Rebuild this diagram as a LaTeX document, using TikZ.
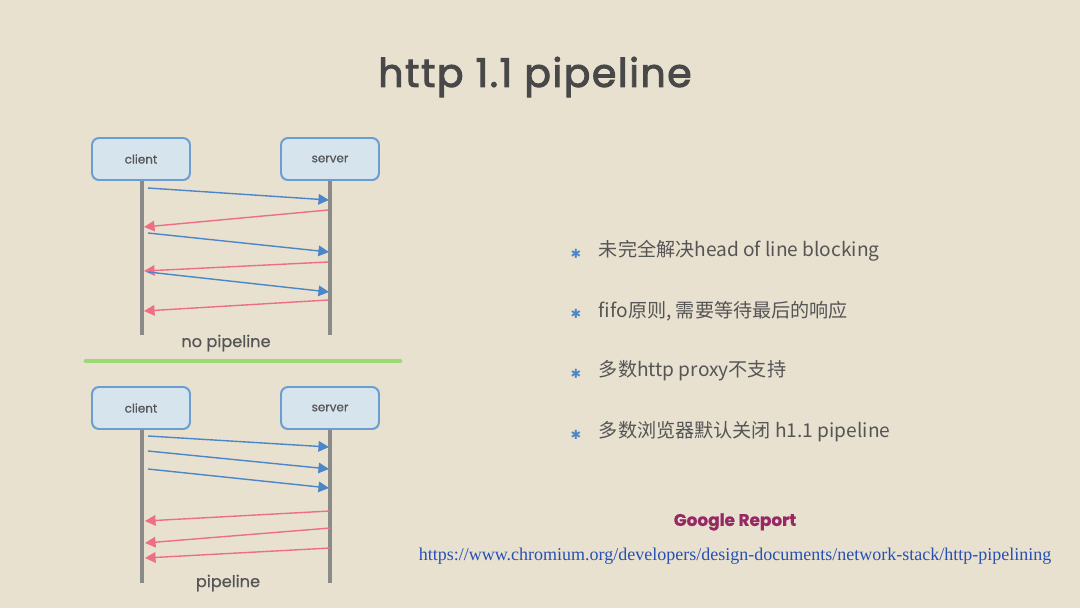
\documentclass[tikz,border=0pt]{standalone}
\usepackage{fontspec}
\usepackage{xcolor}
\usepackage{tikz}
\usetikzlibrary{positioning, calc, arrows.meta}
\setmainfont{Liberation Serif}
\newfontfamily\comic[FakeBold=0.6]{Poppins}
\newfontfamily\titlefont[FakeBold=2.5, LetterSpace=4]{Poppins}
\newfontfamily\cjk{Noto Sans CJK SC}
\newfontfamily\symb{DejaVu Sans}
\definecolor{slidebg}{RGB}{232,225,208}
\definecolor{boxfill}{RGB}{214,228,238}
\definecolor{boxline}{RGB}{106,158,208}
\definecolor{lifegray}{RGB}{138,138,136}
\definecolor{reqblue}{RGB}{76,134,200}
\definecolor{resred}{RGB}{238,110,132}
\definecolor{textgray}{RGB}{85,85,85}
\definecolor{titlegray}{RGB}{72,72,72}
\definecolor{sepgreen}{RGB}{156,218,118}
\definecolor{reportpurple}{RGB}{150,40,100}
\definecolor{urlblue}{RGB}{40,80,180}

\begin{document}
\begin{tikzpicture}[x=0.025cm, y=-0.025cm,
    actor/.style = {draw=boxline, line width=1.4pt, fill=boxfill, rounded corners=5pt, minimum width=98*0.025cm, minimum height=42*0.025cm, font=\comic\fontsize{8.5}{10}\selectfont, text=textgray},
    lifeline/.style = {draw=lifegray, line width=3.5pt},
    request/.style = {draw=reqblue, line width=1pt, -{Triangle[length=7.5pt, width=7.5pt]}},
    response/.style = {draw=resred, line width=1pt, -{Triangle[length=7.5pt, width=7.5pt]}},
    caption/.style = {font=\comic\fontsize{11.5}{14}\selectfont, text=textgray},
    bullet/.style = {font=\cjk\fontsize{13.6}{16}\selectfont, text=textgray, anchor=west},
    star/.style = {font=\symb\fontsize{9}{10}\selectfont, text=reqblue}]
    \fill[slidebg] (0,0) rectangle (1080,608);
    \useasboundingbox (0,0) rectangle (1080,608);

    \node[font=\titlefont\fontsize{28}{32}\selectfont, text=titlegray] (title) at (535,77) {http 1.1 pipeline};

    % no pipeline
    \node[actor] (client1) at (141,159) {client};
    \node[actor] (server1) at (330,159) {server};
    \coordinate (cend1) at (142,335);
    \coordinate (send1) at (330,335);
    \draw[lifeline] (client1.south -| cend1) -- (cend1);
    \draw[lifeline] (server1.south -| send1) -- (send1);
    \foreach \a/\b/\c/\d [count=\i] in {188/200/210/227, 233/252/262/271, 272/292/300/311} {
        \coordinate (c1q\i) at (148,\a);
        \coordinate (s1q\i) at (329,\b);
        \coordinate (s1r\i) at (328,\c);
        \coordinate (c1r\i) at (144,\d);
        \draw[request] (c1q\i) -- (s1q\i);
        \draw[response] (s1r\i) -- (c1r\i);
    }
    \node[caption] (nopipe) at (226,343) {no pipeline};

    \coordinate (sepl) at (86,361);
    \coordinate (sepr) at (400,361);
    \draw[sepgreen, line width=3.5pt, line cap=round] (sepl) -- (sepr);

    % pipeline
    \node[actor] (client2) at (141,408) {client};
    \node[actor] (server2) at (330,408) {server};
    \coordinate (cend2) at (142,583);
    \coordinate (send2) at (330,583);
    \draw[lifeline] (client2.south -| cend2) -- (cend2);
    \draw[lifeline] (server2.south -| send2) -- (send2);
    \foreach \a/\b [count=\i] in {436/447, 451/469, 469/488} {
        \coordinate (c2q\i) at (148,\a);
        \coordinate (s2q\i) at (329,\b);
        \draw[request] (c2q\i) -- (s2q\i);
    }
    \foreach \a/\b [count=\i] in {511/521, 528/543, 548/558} {
        \coordinate (s2r\i) at (330,\a);
        \coordinate (c2r\i) at (145,\b);
        \draw[response] (s2r\i) -- (c2r\i);
    }
    \node[caption] (pipe) at (228,583) {pipeline};

    % notes
    \foreach \t/\y [count=\i] in {未完全解决head of line blocking/251, {fifo原则, 需要等待最后的响应}/311, 多数http proxy不支持/371, 多数浏览器默认关闭 h1.1 pipeline/432} {
        \node[star] (star\i) at (576,\y+3) {✱};
        \node[bullet] (note\i) at (594,\y) {\t};
    }

    \node[font=\comic\bfseries\fontsize{12}{14}\selectfont, text=reportpurple] (report) at (735,522) {Google Report};
    \node[font=\fontsize{12.8}{15}\selectfont, text=urlblue] (url) at (735,556) {https://www.chromium.org/developers/design-documents/network-stack/http-pipelining};
\end{tikzpicture}
\end{document}
